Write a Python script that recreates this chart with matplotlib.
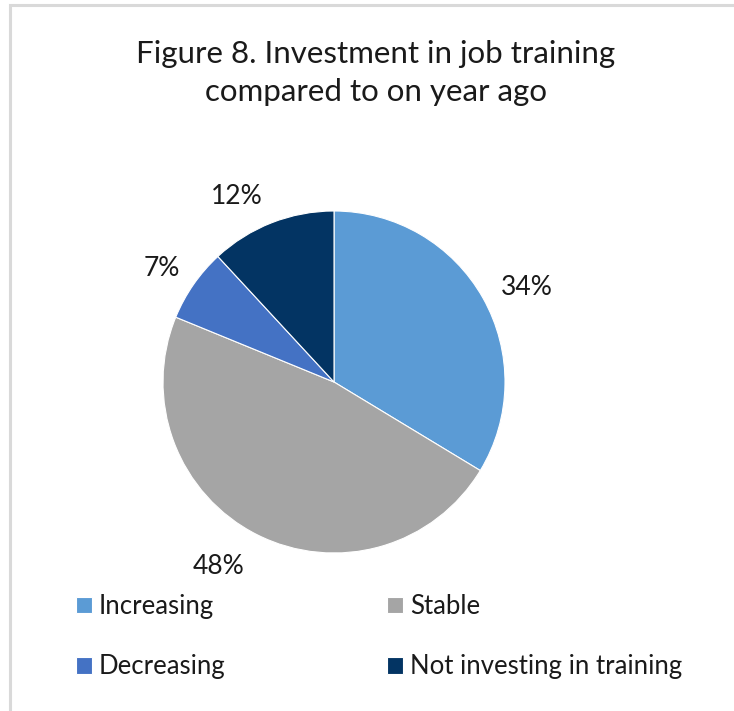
import matplotlib
matplotlib.use("Agg")
import matplotlib.pyplot as plt
from matplotlib.patches import Rectangle
import numpy as np

categories = ["Increasing", "Stable", "Decreasing", "Not investing in training"]
shares = [34, 48, 7, 12]
colors = ["#5B9BD5", "#A5A5A5", "#4472C4", "#033463"]
title = "Figure 8. Investment in job training\ncompared to on year ago"

plt.rcParams["font.family"] = ["Lato", "DejaVu Sans"]
TXT = "#1A1A1A"

W, H = 734, 711
fig = plt.figure(figsize=(W / 100, H / 100), dpi=100)

# light grey chart frame
fig.add_artist(Rectangle((10 / W, -0.1), 2, 1.1 - 5 / H, transform=fig.transFigure,
                         fill=False, edgecolor="#D9D9D9", linewidth=2.2))

fig.text(376 / W, 1 - 73 / H, title, ha="center", va="center",
         fontsize=22.5, color=TXT, linespacing=1.45)

cx, cy, r = 334, 382, 171
ax = fig.add_axes([(cx - r) / W, (H - cy - r) / H, 2 * r / W, 2 * r / H])
wedges, _, autotexts = ax.pie(
    shares, colors=colors, startangle=90, counterclock=False, radius=1,
    autopct=lambda p: f"{p:.0f}%", pctdistance=1.25,
    wedgeprops=dict(linewidth=0.8, edgecolor="white"),
    textprops=dict(fontsize=19, color=TXT))
ax.set_xlim(-1, 1)
ax.set_ylim(-1, 1)
ax.set_aspect("equal")
ax.axis("off")

# nudge the outside-end labels (pixel offsets, y upwards)
label_nudge = [(7, -10), (-19, 6), (3, -8), (-19, -14)]
for t, (dx, dy) in zip(autotexts, label_nudge):
    x, y = t.get_position()
    t.set_position((x + dx / r, y + dy / r))

# legend laid out row by row: Increasing, Stable / Decreasing, Not investing
order = [0, 2, 1, 3]
fig.legend([wedges[i] for i in order], [categories[i] for i in order], ncol=2,
           loc="upper left", bbox_to_anchor=(76 / W, 1 - 594 / H), frameon=False,
           borderpad=0, borderaxespad=0,
           fontsize=18.5, handlelength=0.62, handleheight=0.62,
           handletextpad=0.27, columnspacing=6.3, labelspacing=1.38,
           labelcolor=TXT)

fig.savefig("out.png", dpi=100)
